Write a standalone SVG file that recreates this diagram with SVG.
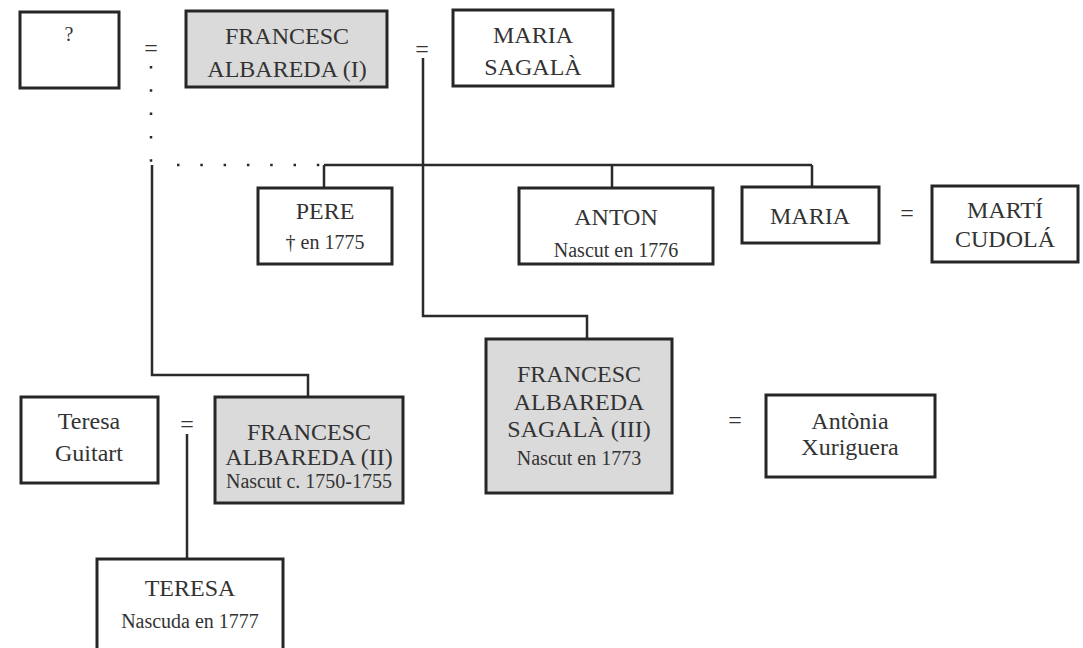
<svg xmlns="http://www.w3.org/2000/svg" width="1083" height="648" viewBox="0 0 1083 648">
<style>
.box{fill:#ffffff;stroke:#262626;stroke-width:3}
.grey{fill:#dadada;stroke:#262626;stroke-width:3}
.t{font-family:"Liberation Serif","DejaVu Serif",serif;font-size:24px;fill:#333;text-anchor:middle}
.s{font-family:"Liberation Serif","DejaVu Serif",serif;font-size:20px;fill:#333;text-anchor:middle}
.eq{font-family:"Liberation Serif","DejaVu Serif",serif;font-size:24px;fill:#333;text-anchor:middle}
.ln{fill:none;stroke:#2a2a2a;stroke-width:2.5}
.dot{fill:none;stroke:#2a2a2a;stroke-width:2.5;stroke-dasharray:2.5 20.8}
</style>
<rect width="1083" height="648" fill="#ffffff"/>
<g id="connectors">
<path class="dot" d="M151 66 V162"/>
<path class="dot" d="M177 165 H322"/>
<path class="ln" d="M423 58 V316 H587 V339"/>
<path class="ln" d="M324 165 H812 M324 165 V188 M612 165 V188 M812 165 V187"/>
<path class="ln" d="M152 165 V375 H308 V397"/>
<path class="ln" d="M187 434 V559"/>
<text class="eq" x="151" y="56">=</text>
<text class="eq" x="422" y="57">=</text>
<text class="eq" x="907" y="221">=</text>
<text class="eq" x="735" y="428">=</text>
<text class="eq" x="187" y="432">=</text>
</g>
<g id="unknown">
<rect class="box" x="20" y="12" width="99" height="76"/>
<text class="s" x="69" y="41">?</text>
</g>
<g id="francesc1">
<rect class="grey" x="186" y="11" width="201" height="76"/>
<text class="t" x="287" y="44">FRANCESC</text>
<text class="t" x="287" y="77">ALBAREDA (I)</text>
</g>
<g id="maria-sagala">
<rect class="box" x="453" y="10" width="160" height="76"/>
<text class="t" x="533" y="43">MARIA</text>
<text class="t" x="533" y="75">SAGALÀ</text>
</g>
<g id="pere">
<rect class="box" x="258" y="188" width="134" height="76"/>
<text class="t" x="325" y="219">PERE</text>
<text class="s" x="325" y="249">† en 1775</text>
</g>
<g id="anton">
<rect class="box" x="519" y="188" width="194" height="76"/>
<text class="t" x="616" y="225">ANTON</text>
<text class="s" x="616" y="257">Nascut en 1776</text>
</g>
<g id="maria">
<rect class="box" x="742" y="187" width="137" height="56"/>
<text class="t" x="810" y="224">MARIA</text>
</g>
<g id="marti">
<rect class="box" x="932" y="186" width="146" height="76"/>
<text class="t" x="1005" y="218">MARTÍ</text>
<text class="t" x="1005" y="247">CUDOLÁ</text>
</g>
<g id="francesc3">
<rect class="grey" x="486" y="339" width="186" height="154"/>
<text class="t" x="579" y="382">FRANCESC</text>
<text class="t" x="579" y="410">ALBAREDA</text>
<text class="t" x="579" y="437">SAGALÀ (III)</text>
<text class="s" x="579" y="465">Nascut en 1773</text>
</g>
<g id="antonia">
<rect class="box" x="766" y="395" width="169" height="82"/>
<text class="t" x="850" y="429">Antònia</text>
<text class="t" x="850" y="455">Xuriguera</text>
</g>
<g id="teresa-guitart">
<rect class="box" x="21" y="397" width="137" height="86"/>
<text class="t" x="89" y="429">Teresa</text>
<text class="t" x="89" y="461">Guitart</text>
</g>
<g id="francesc2">
<rect class="grey" x="215" y="397" width="188" height="106"/>
<text class="t" x="309" y="440">FRANCESC</text>
<text class="t" x="309" y="465">ALBAREDA (II)</text>
<text class="s" x="309" y="488">Nascut c. 1750-1755</text>
</g>
<g id="teresa">
<rect class="box" x="97" y="559" width="186" height="92"/>
<text class="t" x="190" y="596">TERESA</text>
<text class="s" x="190" y="628">Nascuda en 1777</text>
</g>
</svg>
